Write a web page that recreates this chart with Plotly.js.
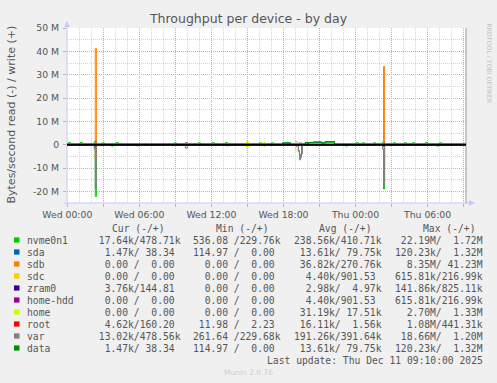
<!DOCTYPE html>
<html><head><meta charset="utf-8">
<script src="https://cdn.plot.ly/plotly-3.0.1.min.js"></script>
<style>html,body{margin:0;padding:0;background:#F0F0F0;}#chart{width:497px;height:383px;}</style>
</head><body><div id="chart"></div>
<script>
// ---- axis ticks ----
const xTickHours = [0,3,6,9,12,15,18,21,24,27,30,33];
const xTickLabels = ["Wed 00:00","","Wed 06:00","","Wed 12:00","","Wed 18:00","","Thu 00:00","","Thu 06:00",""];
const yTickVals = [-20e6,-10e6,0,10e6,20e6,30e6,40e6,50e6];
const yTickLabels = ["-20 M","-10 M","0","10 M","20 M","30 M","40 M","50 M"];

// ---- series (hours since Wed 00:00, values in MB/s; read drawn negative) ----
const nvmeWriteT = [-0.03,0.08,0.25,1.08,1.25,2.25,2.33,2.42,2.92,3.08,4.08,4.25,8.92,9.08,10.92,11.08,12.08,12.25,13.17,13.33,16.0,16.17,17.0,17.17,17.92,18.58,19.0,19.17,19.83,22.25,24.08,24.25,24.58,24.75,25.5,25.67,26.25,26.33,26.42,27.17,27.33,28.08,28.25,28.75,28.92,29.83,30.0,31.0,31.17,33.2];
const nvmeWriteV = [0.3,0.9,0.3,0.9,0.3,1.2,1.72,0.3,0.8,0.3,0.9,0.3,0.8,0.3,0.8,0.3,0.8,0.3,0.9,0.3,0.8,0.3,0.8,0.3,0.8,0.3,1.3,0.3,1.0,0.3,0.8,0.3,0.8,0.3,0.8,0.3,1.0,1.5,0.3,0.8,0.3,0.8,0.3,0.8,0.3,0.9,0.3,0.8,0.3,0.3];
const nvmeReadT = [-0.03,2.25,2.33,2.42,3.67,3.83,5.75,5.92,13.25,13.42,19.25,19.33,19.42,19.5,23.17,23.33,26.25,26.33,26.42,30.75,30.92,33.2];
const nvmeReadV = [0.05,1.5,22.19,0.05,0.6,0.05,0.5,0.05,0.5,0.05,2.5,4.5,5.5,0.05,0.6,0.05,1.2,19.0,0.05,0.6,0.05,0.05];

const sdbWriteT = [-0.03,2.33,2.42,26.33,26.42,33.2];
const sdbWriteV = [0,41.23,0,33.5,0,0];
const sdbReadT = [-0.03,2.33,2.42,26.33,26.42,33.2];
const sdbReadV = [0,6.0,0,8.35,0,0];

const sdcWriteT = [-0.03,19.0,19.17,33.2];
const sdcWriteV = [0,0.22,0,0];
const sdcReadT = [-0.03,19.0,19.17,33.2];
const sdcReadV = [0,0.62,0,0];

const zramWriteT = [-0.03,20.0,20.08,33.2];
const zramWriteV = [0,0.83,0,0];
const zramReadT = [-0.03,20.0,20.08,33.2];
const zramReadV = [0,0.14,0,0];

const homeWriteT = [-0.03,14.92,15.08,16.33,16.5,19.0,19.17,26.25,26.33,33.2];
const homeWriteV = [0,1.33,0,0.9,0,1.3,0,0.6,0,0];
const homeReadT = [-0.03,14.92,15.08,16.33,16.5,19.0,19.17,26.25,26.33,33.2];
const homeReadV = [0,1.0,0,0.7,0,2.7,0,1.5,0,0];

const rootWriteT = [-0.03,2.33,2.42,26.33,26.42,33.2];
const rootWriteV = [0,0.44,0,0.3,0,0];
const rootReadT = [-0.03,2.33,2.42,26.33,26.42,33.2];
const rootReadV = [0,1.08,0,0.8,0,0];

const varWriteT = [-0.03,2.33,2.42,9.83,10.0,19.33,19.5,26.33,26.42,33.2];
const varWriteV = [0.3,1.2,0.3,0.9,0.3,0.8,0.3,1.0,0.3,0.3];
const varReadT = [-0.03,2.25,2.33,2.42,9.83,10.0,19.25,19.33,19.42,19.58,26.25,26.33,26.42,33.2];
const varReadV = [0.1,2.0,18.66,0.1,1.5,0.1,3.0,6.5,4.0,0.1,2.0,17.0,0.1,0.1];

const dataWriteT = [-0.03,17.92,18.58,19.83,20.5,21.17,21.5,22.25,33.2];
const dataWriteV = [0.04,0.7,0.04,0.9,1.1,0.8,1.32,0.04,0.04];
const dataReadT = [-0.03,2.33,2.42,33.2];
const dataReadV = [0.01,0.12,0.01,0.01];

// ---- legend ----
const devNames = ["nvme0n1","sda","sdb","sdc","zram0","home-hdd","home","root","var","data"];
const devColors = ["#00CC00","#0066B3","#FF8000","#FFCC00","#330099","#990099","#CCFF00","#FF0000","#808080","#008F00"];
const curText = [" 17.64k/478.71k","  1.47k/ 38.34 ","  0.00 /  0.00 ","  0.00 /  0.00 ","  3.76k/144.81 ","  0.00 /  0.00 ","  0.00 /  0.00 ","  4.62k/160.20 "," 13.02k/478.56k","  1.47k/ 38.34 "];
const minText = ["536.08 /229.76k","114.97 /  0.00 ","  0.00 /  0.00 ","  0.00 /  0.00 ","  0.00 /  0.00 ","  0.00 /  0.00 ","  0.00 /  0.00 "," 11.98 /  2.23 ","261.64 /229.68k","114.97 /  0.00 "];
const avgText = ["238.56k/410.71k"," 13.61k/ 79.75k"," 36.82k/270.76k","  4.40k/901.53 ","  2.98k/  4.97k","  4.40k/901.53 "," 31.19k/ 17.51k"," 16.11k/  1.56k","191.26k/391.64k"," 13.61k/ 79.75k"];
const maxText = [" 22.19M/  1.72M","120.23k/  1.32M","  8.35M/ 41.23M","615.81k/216.99k","141.86k/825.11k","615.81k/216.99k","  2.70M/  1.33M","  1.08M/441.31k"," 18.66M/  1.20M","120.23k/  1.32M"];
const colHeaders = ["Cur (-/+)","Min (-/+)","Avg (-/+)","Max (-/+)"];

// ---- build ----
const L = 67, R = 466, T = 28, B = 203;
const px = x => (x - L) / (R - L);
const py = y => (B - y) / (B - T);
const nb = s => s.replace(/ /g, "\u00A0");

const seriesList = [
  [nvmeReadT,nvmeReadV,nvmeWriteT,nvmeWriteV],
  [dataReadT,dataReadV,dataWriteT,dataWriteV],
  [sdbReadT,sdbReadV,sdbWriteT,sdbWriteV],
  [sdcReadT,sdcReadV,sdcWriteT,sdcWriteV],
  [zramReadT,zramReadV,zramWriteT,zramWriteV],
  [sdcReadT,sdcReadV,sdcWriteT,sdcWriteV],
  [homeReadT,homeReadV,homeWriteT,homeWriteV],
  [rootReadT,rootReadV,rootWriteT,rootWriteV],
  [varReadT,varReadV,varWriteT,varWriteV],
  [dataReadT,dataReadV,dataWriteT,dataWriteV]
];
const traces = [];
seriesList.forEach((s, i) => {
  const c = devColors[i];
  traces.push({x: s[0], y: s[1].map(v => -v * 1e6), type: 'scatter', mode: 'lines',
    line: {color: c, width: 1, shape: 'hv'}, showlegend: false, hoverinfo: 'skip'});
  traces.push({x: s[2], y: s[3].map(v => v * 1e6), type: 'scatter', mode: 'lines',
    line: {color: c, width: 1, shape: 'hv'}, showlegend: false, hoverinfo: 'skip'});
});

const txt = '#555555';
const mono = 'DejaVu Sans Mono';
const ann = [];
const shapes = [];
function addText(text, x, y, opts) {
  ann.push(Object.assign({text: nb(text), xref: 'paper', yref: 'paper', x: px(x), y: py(y),
    xanchor: 'left', yanchor: 'middle', showarrow: false, borderpad: 0, borderwidth: 0,
    font: {family: mono, size: 9.7, color: txt}}, opts || {}));
}
// headers
const headerX = [112, 215.7, 319.3, 422.7];
colHeaders.forEach((h, i) => addText(h, headerX[i], 228));
const colX = [93.2, 193.3, 294.3, 395.2];
devNames.forEach((n, i) => {
  const y = 240 + 12 * i;
  shapes.push({type: 'rect', xref: 'paper', yref: 'paper', x0: px(14), x1: px(19.5), y0: py(y + 2.6), y1: py(y - 2.6),
    fillcolor: devColors[i], line: {width: 0}});
  addText(n, 26.7, y);
  addText(curText[i], colX[0], y);
  addText(minText[i], colX[1], y);
  addText(avgText[i], colX[2], y);
  addText(maxText[i], colX[3], y);
});
addText("Last update: Thu Dec 11 09:10:00 2025", 482.5, 360, {xanchor: 'right'});
ann.push({text: "Munin 2.0.76", xref: 'paper', yref: 'paper', x: px(248), y: py(372), xanchor: 'center', yanchor: 'middle',
  showarrow: false, font: {family: 'DejaVu Sans', size: 7.5, color: '#CCCCCC'}});
ann.push({text: "Bytes/second read (-) / write (+)", xref: 'paper', yref: 'paper', x: px(11), y: py(114.5), textangle: -90,
  xanchor: 'center', yanchor: 'middle', showarrow: false, font: {family: 'DejaVu Sans', size: 11, color: txt}});
ann.push({text: "RRDTOOL / TOBI OETIKER", xref: 'paper', yref: 'paper', x: px(488.5), y: py(63), textangle: 90,
  xanchor: 'center', yanchor: 'middle', showarrow: false, font: {family: 'DejaVu Sans', size: 6.2, color: '#C0C0C0'}});

// axis lines, arrows, zero line, right edge
const axisCol = '#C8C8FF';
shapes.push({type: 'line', xref: 'paper', yref: 'paper', x0: px(L), x1: px(L), y0: py(B + 2), y1: py(23), line: {color: axisCol, width: 1}, layer: 'above'});
shapes.push({type: 'line', xref: 'paper', yref: 'paper', x0: px(L - 3), x1: px(471), y0: py(B), y1: py(B), line: {color: axisCol, width: 1}, layer: 'above'});
shapes.push({type: 'path', xref: 'paper', yref: 'paper', path: `M ${px(64)} ${py(27)} L ${px(70)} ${py(27)} L ${px(67)} ${py(21)} Z`, fillcolor: axisCol, line: {width: 0}, layer: 'above'});
shapes.push({type: 'path', xref: 'paper', yref: 'paper', path: `M ${px(469)} ${py(200)} L ${px(469)} ${py(206)} L ${px(475)} ${py(203)} Z`, fillcolor: axisCol, line: {width: 0}, layer: 'above'});
shapes.push({type: 'line', xref: 'paper', yref: 'paper', x0: 1, x1: 1, y0: 0, y1: 1, line: {color: '#999999', width: 1}, layer: 'above'});
shapes.push({type: 'line', xref: 'paper', yref: 'y', x0: 0, x1: 1, y0: 0, y1: 0, line: {color: '#000000', width: 2}, layer: 'above'});

const gridMaj = '#E4A4A4', gridMin = '#D6D6D6';
const layout = {
  width: 497, height: 383,
  paper_bgcolor: '#F0F0F0', plot_bgcolor: '#FFFFFF',
  margin: {l: L, r: 497 - R, t: T, b: 383 - B, pad: 0},
  showlegend: false,
  title: {text: "Throughput per device - by day", xref: 'container', x: 0.5, xanchor: 'center',
    yref: 'container', y: 1 - 19 / 383, yanchor: 'middle', font: {family: 'DejaVu Sans', size: 12.5, color: txt}},
  xaxis: {type: 'linear', range: [-0.025, 33.2], tickmode: 'array', tickvals: xTickHours, ticktext: xTickLabels,
    showgrid: true, gridcolor: gridMaj, griddash: '1px,1px', gridwidth: 1, zeroline: false, showline: false,
    ticks: 'outside', ticklen: 3, tickcolor: gridMaj, tickfont: {family: 'DejaVu Sans', size: 9.3, color: txt},
    minor: {tickmode: 'linear', tick0: 0, dtick: 1, showgrid: true, gridcolor: gridMin, griddash: '1px,1px', ticks: ''},
    fixedrange: true},
  yaxis: {range: [-25e6, 50e6], tickmode: 'array', tickvals: yTickVals, ticktext: yTickLabels,
    showgrid: true, gridcolor: gridMaj, griddash: '1px,1px', gridwidth: 1, zeroline: false, showline: false,
    ticks: 'outside', ticklen: 3, tickcolor: gridMaj, ticklabelstandoff: 2,
    tickfont: {family: 'DejaVu Sans', size: 9.3, color: txt},
    minor: {tickmode: 'linear', tick0: 0, dtick: 5e6, showgrid: true, gridcolor: gridMin, griddash: '1px,1px', ticks: ''},
    fixedrange: true},
  annotations: ann,
  shapes: shapes
};
Plotly.newPlot('chart', traces, layout, {staticPlot: true, displayModeBar: false});
</script></body></html>
